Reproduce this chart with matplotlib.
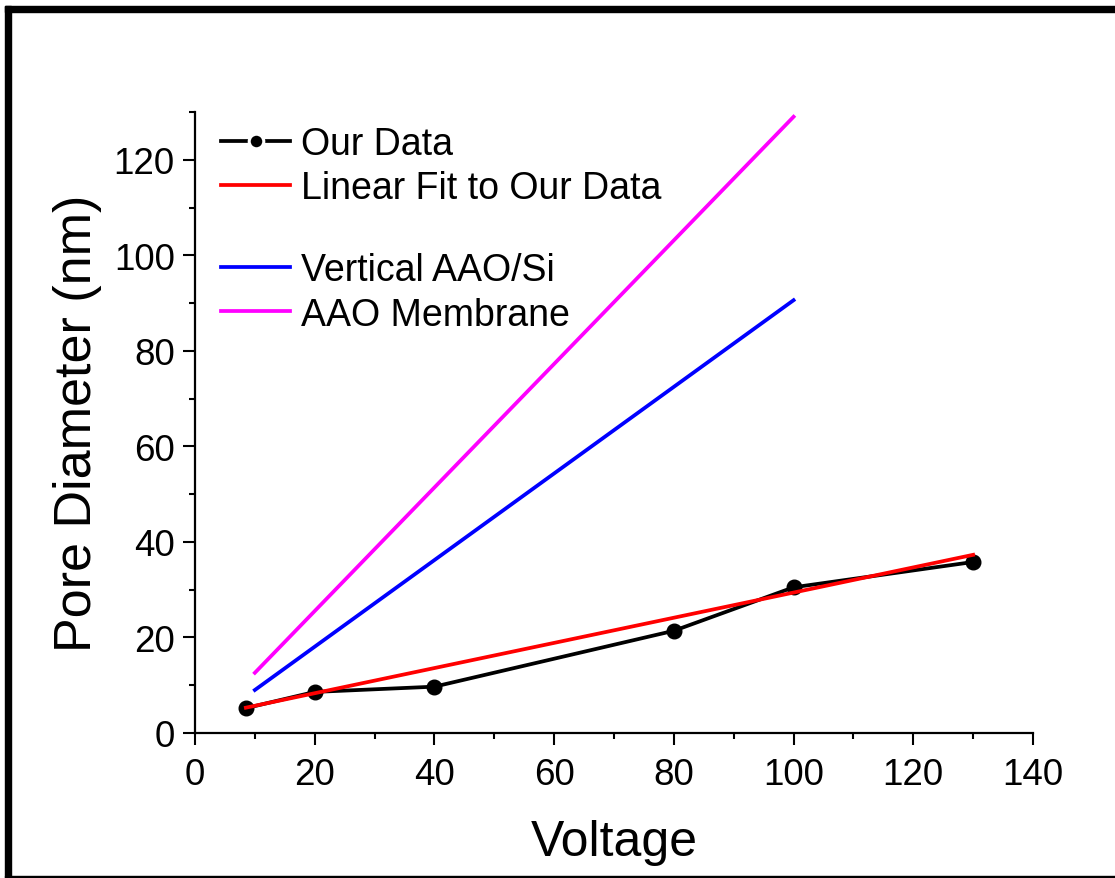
import matplotlib

matplotlib.use("Agg")
import matplotlib.pyplot as plt
from matplotlib.lines import Line2D
from matplotlib.patches import Rectangle
from matplotlib.ticker import MultipleLocator

plt.rcParams["font.family"] = ["Liberation Sans", "DejaVu Sans"]

# measured pore diameters
voltage = [8.5, 20, 40, 80, 100, 130]
diameter = [5.2, 8.6, 9.7, 21.4, 30.5, 35.8]

# linear fit to our data (endpoints)
fit_v = [8.5, 130]
fit_d = [5.3, 37.3]

# literature trends
aao_si_v = [10, 100]
aao_si_d = [9.0, 90.6]
membrane_v = [10, 100]
membrane_d = [12.6, 129.0]

W, H, DPI = 1115, 879, 100
LW = 2.7
fig = plt.figure(figsize=(W / DPI, H / DPI), dpi=DPI)
ax = fig.add_axes([195 / W, 1 - 734 / H, (1033 - 195) / W, (734 - 113) / H])

ax.plot(membrane_v, membrane_d, color="#ff00ff", lw=LW, zorder=2)
ax.plot(aao_si_v, aao_si_d, color="#0000ff", lw=LW, zorder=2)
ax.plot(voltage, diameter, color="black", lw=LW, marker="o", ms=10.5, zorder=3)
ax.plot(fit_v, fit_d, color="#ff0000", lw=LW, zorder=4)

ax.set_xlim(0, 140)
ax.set_ylim(0, 130)
ax.xaxis.set_major_locator(MultipleLocator(20))
ax.xaxis.set_minor_locator(MultipleLocator(10))
ax.yaxis.set_major_locator(MultipleLocator(20))
ax.yaxis.set_minor_locator(MultipleLocator(10))

for side in ("top", "right"):
    ax.spines[side].set_visible(False)
for side in ("left", "bottom"):
    ax.spines[side].set_linewidth(1.6)

ax.tick_params(which="major", direction="out", length=8.6, width=1.5,
               labelsize=26.5, pad=6)
ax.tick_params(axis="x", which="major", pad=9)
ax.tick_params(which="minor", direction="out", length=4.3, width=1.5)

ax.set_xlabel("Voltage", fontsize=36, labelpad=19)
ax.set_ylabel("Pore Diameter (nm)", fontsize=37.5, labelpad=8)

# legends: two groups with a gap between them
h_data = Line2D([], [], color="black", lw=LW, marker="o", ms=10.5,
                markeredgecolor="white", markeredgewidth=2.2, markerfacecolor="black")
h_fit = Line2D([], [], color="#ff0000", lw=LW)
h_si = Line2D([], [], color="#0000ff", lw=LW)
h_mem = Line2D([], [], color="#ff00ff", lw=LW)

leg_kw = dict(loc="upper left", frameon=False, fontsize=27, borderpad=0,
              borderaxespad=0, handlelength=1.85, handletextpad=0.28,
              labelspacing=0.22)
leg1 = ax.legend([h_data, h_fit], ["Our Data", "Linear Fit to Our Data"],
                 bbox_to_anchor=(0.031, 0.978), **leg_kw)
ax.add_artist(leg1)
ax.legend([h_si, h_mem], ["Vertical AAO/Si", "AAO Membrane"],
          bbox_to_anchor=(0.031, 0.774), **leg_kw)

# outer frame of the figure
fig.patches.append(Rectangle((5 / W, 1 - 13 / H), 1 - 5 / W, 6 / H,
                             transform=fig.transFigure, color="black"))
fig.patches.append(Rectangle((5 / W, 1 - 878 / H), 6 / W, (878 - 7) / H,
                             transform=fig.transFigure, color="black"))
fig.patches.append(Rectangle((5 / W, 1 - 879 / H), 1 - 5 / W, 2 / H,
                             transform=fig.transFigure, color="black"))

fig.savefig("out.png", dpi=DPI)
